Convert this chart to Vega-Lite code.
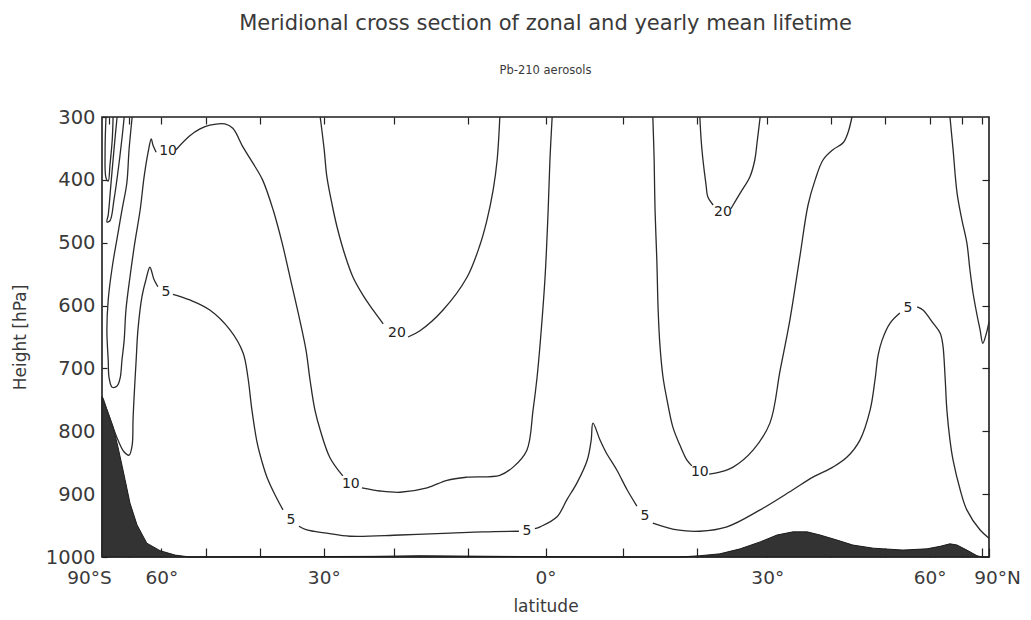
{
  "$schema": "https://vega.github.io/schema/vega-lite/v6.json",
  "width": 887,
  "height": 440,
  "autosize": "none",
  "padding": {"left": 102, "top": 117, "right": 42, "bottom": 63},
  "background": "white",
  "config": {
    "font": "DejaVu Sans",
    "view": {"stroke": "#1c1c1c", "strokeWidth": 1.6},
    "axis": {"grid": false, "domain": false, "tickColor": "#222", "tickWidth": 1.2}
  },
  "title": {
    "text": "Meridional cross section of zonal and yearly mean lifetime",
    "subtitle": "Pb-210 aerosols",
    "anchor": "middle",
    "font": "DejaVu Sans",
    "fontSize": 21,
    "fontWeight": "normal",
    "color": "#3a3a3a",
    "subtitleFont": "DejaVu Sans",
    "subtitleFontSize": 11.5,
    "subtitleFontWeight": "normal",
    "subtitleColor": "#3a3a3a",
    "subtitlePadding": 31,
    "offset": 31
  },
  "datasets": {
    "orography": [
      {"mu": -1.0, "p": 745}, {"mu": -0.986, "p": 771}, {"mu": -0.975, "p": 793},
      {"mu": -0.964, "p": 825}, {"mu": -0.955, "p": 854}, {"mu": -0.948, "p": 877},
      {"mu": -0.937, "p": 914}, {"mu": -0.921, "p": 949}, {"mu": -0.899, "p": 978},
      {"mu": -0.869, "p": 990}, {"mu": -0.835, "p": 997}, {"mu": -0.802, "p": 1000},
      {"mu": -0.389, "p": 999}, {"mu": -0.283, "p": 998}, {"mu": -0.103, "p": 999},
      {"mu": 0.123, "p": 1000}, {"mu": 0.303, "p": 1000}, {"mu": 0.348, "p": 998},
      {"mu": 0.393, "p": 995}, {"mu": 0.439, "p": 987}, {"mu": 0.484, "p": 976},
      {"mu": 0.522, "p": 965}, {"mu": 0.558, "p": 960}, {"mu": 0.59, "p": 960},
      {"mu": 0.619, "p": 965}, {"mu": 0.657, "p": 973}, {"mu": 0.693, "p": 981},
      {"mu": 0.739, "p": 986}, {"mu": 0.806, "p": 989}, {"mu": 0.86, "p": 987},
      {"mu": 0.89, "p": 983}, {"mu": 0.912, "p": 979}, {"mu": 0.928, "p": 981},
      {"mu": 0.95, "p": 989}, {"mu": 0.973, "p": 998}, {"mu": 0.984, "p": 1000},
      {"mu": 1.0, "p": 1000}
    ],
    "contours": [
      {"seg": "s1", "i": 0, "mu": -0.991, "p": 300}, {"seg": "s1", "i": 1, "mu": -0.993, "p": 352},
      {"seg": "s1", "i": 2, "mu": -0.991, "p": 397}, {"seg": "s1", "i": 3, "mu": -0.986, "p": 402},
      {"seg": "s1", "i": 4, "mu": -0.982, "p": 376}, {"seg": "s1", "i": 5, "mu": -0.977, "p": 337},
      {"seg": "s1", "i": 6, "mu": -0.975, "p": 300},

      {"seg": "s2", "i": 0, "mu": -0.966, "p": 300}, {"seg": "s2", "i": 1, "mu": -0.973, "p": 352},
      {"seg": "s2", "i": 2, "mu": -0.98, "p": 408}, {"seg": "s2", "i": 3, "mu": -0.986, "p": 456},
      {"seg": "s2", "i": 4, "mu": -0.989, "p": 467}, {"seg": "s2", "i": 5, "mu": -0.982, "p": 465},
      {"seg": "s2", "i": 6, "mu": -0.973, "p": 432}, {"seg": "s2", "i": 7, "mu": -0.962, "p": 376},
      {"seg": "s2", "i": 8, "mu": -0.953, "p": 321}, {"seg": "s2", "i": 9, "mu": -0.95, "p": 300},

      {"seg": "t10a", "i": 0, "mu": -0.932, "p": 300}, {"seg": "t10a", "i": 1, "mu": -0.939, "p": 352},
      {"seg": "t10a", "i": 2, "mu": -0.944, "p": 405}, {"seg": "t10a", "i": 3, "mu": -0.955, "p": 448},
      {"seg": "t10a", "i": 4, "mu": -0.964, "p": 485}, {"seg": "t10a", "i": 5, "mu": -0.977, "p": 539},
      {"seg": "t10a", "i": 6, "mu": -0.986, "p": 591}, {"seg": "t10a", "i": 7, "mu": -0.989, "p": 639},
      {"seg": "t10a", "i": 8, "mu": -0.986, "p": 687}, {"seg": "t10a", "i": 9, "mu": -0.984, "p": 715},
      {"seg": "t10a", "i": 10, "mu": -0.977, "p": 730}, {"seg": "t10a", "i": 11, "mu": -0.966, "p": 728},
      {"seg": "t10a", "i": 12, "mu": -0.959, "p": 715}, {"seg": "t10a", "i": 13, "mu": -0.955, "p": 687},
      {"seg": "t10a", "i": 14, "mu": -0.95, "p": 655}, {"seg": "t10a", "i": 15, "mu": -0.946, "p": 607},
      {"seg": "t10a", "i": 16, "mu": -0.937, "p": 555}, {"seg": "t10a", "i": 17, "mu": -0.926, "p": 500},
      {"seg": "t10a", "i": 18, "mu": -0.914, "p": 448}, {"seg": "t10a", "i": 19, "mu": -0.905, "p": 395},
      {"seg": "t10a", "i": 20, "mu": -0.896, "p": 356}, {"seg": "t10a", "i": 21, "mu": -0.889, "p": 335},
      {"seg": "t10a", "i": 22, "mu": -0.885, "p": 345}, {"seg": "t10a", "i": 23, "mu": -0.878, "p": 356},

      {"seg": "t10b", "i": 0, "mu": -0.833, "p": 352}, {"seg": "t10b", "i": 1, "mu": -0.802, "p": 330},
      {"seg": "t10b", "i": 2, "mu": -0.779, "p": 319}, {"seg": "t10b", "i": 3, "mu": -0.757, "p": 313},
      {"seg": "t10b", "i": 4, "mu": -0.723, "p": 311}, {"seg": "t10b", "i": 5, "mu": -0.705, "p": 318},
      {"seg": "t10b", "i": 6, "mu": -0.682, "p": 348}, {"seg": "t10b", "i": 7, "mu": -0.66, "p": 373},
      {"seg": "t10b", "i": 8, "mu": -0.638, "p": 400}, {"seg": "t10b", "i": 9, "mu": -0.614, "p": 448},
      {"seg": "t10b", "i": 10, "mu": -0.594, "p": 500}, {"seg": "t10b", "i": 11, "mu": -0.576, "p": 555},
      {"seg": "t10b", "i": 12, "mu": -0.554, "p": 623}, {"seg": "t10b", "i": 13, "mu": -0.54, "p": 671},
      {"seg": "t10b", "i": 14, "mu": -0.531, "p": 718}, {"seg": "t10b", "i": 15, "mu": -0.52, "p": 766},
      {"seg": "t10b", "i": 16, "mu": -0.508, "p": 798}, {"seg": "t10b", "i": 17, "mu": -0.486, "p": 842},
      {"seg": "t10b", "i": 18, "mu": -0.457, "p": 871},

      {"seg": "t10c", "i": 0, "mu": -0.414, "p": 890}, {"seg": "t10c", "i": 1, "mu": -0.373, "p": 895},
      {"seg": "t10c", "i": 2, "mu": -0.328, "p": 897}, {"seg": "t10c", "i": 3, "mu": -0.267, "p": 890},
      {"seg": "t10c", "i": 4, "mu": -0.222, "p": 878}, {"seg": "t10c", "i": 5, "mu": -0.177, "p": 873},
      {"seg": "t10c", "i": 6, "mu": -0.103, "p": 870}, {"seg": "t10c", "i": 7, "mu": -0.073, "p": 857},
      {"seg": "t10c", "i": 8, "mu": -0.042, "p": 830}, {"seg": "t10c", "i": 9, "mu": -0.028, "p": 766},
      {"seg": "t10c", "i": 10, "mu": -0.019, "p": 714}, {"seg": "t10c", "i": 11, "mu": -0.012, "p": 660},
      {"seg": "t10c", "i": 12, "mu": -0.001, "p": 555}, {"seg": "t10c", "i": 13, "mu": 0.006, "p": 448},
      {"seg": "t10c", "i": 14, "mu": 0.01, "p": 368}, {"seg": "t10c", "i": 15, "mu": 0.015, "p": 300},

      {"seg": "t20a", "i": 0, "mu": -0.508, "p": 300}, {"seg": "t20a", "i": 1, "mu": -0.499, "p": 352},
      {"seg": "t20a", "i": 2, "mu": -0.493, "p": 395}, {"seg": "t20a", "i": 3, "mu": -0.481, "p": 440},
      {"seg": "t20a", "i": 4, "mu": -0.47, "p": 475}, {"seg": "t20a", "i": 5, "mu": -0.452, "p": 520},
      {"seg": "t20a", "i": 6, "mu": -0.434, "p": 555}, {"seg": "t20a", "i": 7, "mu": -0.412, "p": 583},
      {"seg": "t20a", "i": 8, "mu": -0.389, "p": 607}, {"seg": "t20a", "i": 9, "mu": -0.366, "p": 629},

      {"seg": "t20b", "i": 0, "mu": -0.31, "p": 650}, {"seg": "t20b", "i": 1, "mu": -0.283, "p": 640},
      {"seg": "t20b", "i": 2, "mu": -0.231, "p": 607}, {"seg": "t20b", "i": 3, "mu": -0.177, "p": 555},
      {"seg": "t20b", "i": 4, "mu": -0.148, "p": 504}, {"seg": "t20b", "i": 5, "mu": -0.132, "p": 464},
      {"seg": "t20b", "i": 6, "mu": -0.118, "p": 416}, {"seg": "t20b", "i": 7, "mu": -0.109, "p": 368},
      {"seg": "t20b", "i": 8, "mu": -0.103, "p": 300},

      {"seg": "t5a", "i": 0, "mu": -0.998, "p": 747}, {"seg": "t5a", "i": 1, "mu": -0.989, "p": 766},
      {"seg": "t5a", "i": 2, "mu": -0.977, "p": 790}, {"seg": "t5a", "i": 3, "mu": -0.964, "p": 814},
      {"seg": "t5a", "i": 4, "mu": -0.95, "p": 833}, {"seg": "t5a", "i": 5, "mu": -0.939, "p": 838},
      {"seg": "t5a", "i": 6, "mu": -0.932, "p": 822}, {"seg": "t5a", "i": 7, "mu": -0.93, "p": 782},
      {"seg": "t5a", "i": 8, "mu": -0.928, "p": 750}, {"seg": "t5a", "i": 9, "mu": -0.923, "p": 687},
      {"seg": "t5a", "i": 10, "mu": -0.919, "p": 639}, {"seg": "t5a", "i": 11, "mu": -0.91, "p": 586},
      {"seg": "t5a", "i": 12, "mu": -0.901, "p": 559}, {"seg": "t5a", "i": 13, "mu": -0.892, "p": 539},
      {"seg": "t5a", "i": 14, "mu": -0.883, "p": 558}, {"seg": "t5a", "i": 15, "mu": -0.874, "p": 570},

      {"seg": "t5b", "i": 0, "mu": -0.84, "p": 582}, {"seg": "t5b", "i": 1, "mu": -0.802, "p": 591},
      {"seg": "t5b", "i": 2, "mu": -0.757, "p": 607}, {"seg": "t5b", "i": 3, "mu": -0.711, "p": 639},
      {"seg": "t5b", "i": 4, "mu": -0.682, "p": 675}, {"seg": "t5b", "i": 5, "mu": -0.671, "p": 714},
      {"seg": "t5b", "i": 6, "mu": -0.662, "p": 766}, {"seg": "t5b", "i": 7, "mu": -0.65, "p": 819},
      {"seg": "t5b", "i": 8, "mu": -0.639, "p": 849}, {"seg": "t5b", "i": 9, "mu": -0.628, "p": 873},
      {"seg": "t5b", "i": 10, "mu": -0.61, "p": 901}, {"seg": "t5b", "i": 11, "mu": -0.592, "p": 925},

      {"seg": "t5c", "i": 0, "mu": -0.556, "p": 951}, {"seg": "t5c", "i": 1, "mu": -0.538, "p": 957},
      {"seg": "t5c", "i": 2, "mu": -0.493, "p": 962}, {"seg": "t5c", "i": 3, "mu": -0.441, "p": 967},
      {"seg": "t5c", "i": 4, "mu": -0.328, "p": 965}, {"seg": "t5c", "i": 5, "mu": -0.215, "p": 962},
      {"seg": "t5c", "i": 6, "mu": -0.141, "p": 960}, {"seg": "t5c", "i": 7, "mu": -0.06, "p": 959},

      {"seg": "t5d", "i": 0, "mu": -0.024, "p": 955}, {"seg": "t5d", "i": 1, "mu": -0.012, "p": 952},
      {"seg": "t5d", "i": 2, "mu": 0.026, "p": 936}, {"seg": "t5d", "i": 3, "mu": 0.048, "p": 909},
      {"seg": "t5d", "i": 4, "mu": 0.071, "p": 882}, {"seg": "t5d", "i": 5, "mu": 0.094, "p": 846},
      {"seg": "t5d", "i": 6, "mu": 0.103, "p": 814}, {"seg": "t5d", "i": 7, "mu": 0.107, "p": 787},
      {"seg": "t5d", "i": 8, "mu": 0.123, "p": 814}, {"seg": "t5d", "i": 9, "mu": 0.136, "p": 833},
      {"seg": "t5d", "i": 10, "mu": 0.161, "p": 862}, {"seg": "t5d", "i": 11, "mu": 0.184, "p": 893},
      {"seg": "t5d", "i": 12, "mu": 0.206, "p": 919},

      {"seg": "t5e", "i": 0, "mu": 0.242, "p": 946}, {"seg": "t5e", "i": 1, "mu": 0.297, "p": 957},
      {"seg": "t5e", "i": 2, "mu": 0.348, "p": 959}, {"seg": "t5e", "i": 3, "mu": 0.409, "p": 952},
      {"seg": "t5e", "i": 4, "mu": 0.484, "p": 925}, {"seg": "t5e", "i": 5, "mu": 0.558, "p": 893},
      {"seg": "t5e", "i": 6, "mu": 0.603, "p": 873}, {"seg": "t5e", "i": 7, "mu": 0.648, "p": 857},
      {"seg": "t5e", "i": 8, "mu": 0.68, "p": 841}, {"seg": "t5e", "i": 9, "mu": 0.709, "p": 814},
      {"seg": "t5e", "i": 10, "mu": 0.732, "p": 766}, {"seg": "t5e", "i": 11, "mu": 0.743, "p": 718},
      {"seg": "t5e", "i": 12, "mu": 0.75, "p": 679}, {"seg": "t5e", "i": 13, "mu": 0.759, "p": 655},
      {"seg": "t5e", "i": 14, "mu": 0.777, "p": 628}, {"seg": "t5e", "i": 15, "mu": 0.799, "p": 612},

      {"seg": "t5f", "i": 0, "mu": 0.838, "p": 602}, {"seg": "t5f", "i": 1, "mu": 0.851, "p": 607},
      {"seg": "t5f", "i": 2, "mu": 0.874, "p": 628}, {"seg": "t5f", "i": 3, "mu": 0.89, "p": 644},
      {"seg": "t5f", "i": 4, "mu": 0.896, "p": 663}, {"seg": "t5f", "i": 5, "mu": 0.901, "p": 714},
      {"seg": "t5f", "i": 6, "mu": 0.905, "p": 766}, {"seg": "t5f", "i": 7, "mu": 0.912, "p": 814},
      {"seg": "t5f", "i": 8, "mu": 0.919, "p": 846}, {"seg": "t5f", "i": 9, "mu": 0.935, "p": 893},
      {"seg": "t5f", "i": 10, "mu": 0.95, "p": 925}, {"seg": "t5f", "i": 11, "mu": 0.98, "p": 957},
      {"seg": "t5f", "i": 12, "mu": 1.0, "p": 970},

      {"seg": "n10a", "i": 0, "mu": 0.242, "p": 300}, {"seg": "n10a", "i": 1, "mu": 0.245, "p": 368},
      {"seg": "n10a", "i": 2, "mu": 0.247, "p": 448}, {"seg": "n10a", "i": 3, "mu": 0.251, "p": 527},
      {"seg": "n10a", "i": 4, "mu": 0.254, "p": 607}, {"seg": "n10a", "i": 5, "mu": 0.258, "p": 663},
      {"seg": "n10a", "i": 6, "mu": 0.265, "p": 714}, {"seg": "n10a", "i": 7, "mu": 0.274, "p": 750},
      {"seg": "n10a", "i": 8, "mu": 0.287, "p": 793}, {"seg": "n10a", "i": 9, "mu": 0.303, "p": 822},
      {"seg": "n10a", "i": 10, "mu": 0.319, "p": 846}, {"seg": "n10a", "i": 11, "mu": 0.33, "p": 855},

      {"seg": "n10b", "i": 0, "mu": 0.369, "p": 868}, {"seg": "n10b", "i": 1, "mu": 0.393, "p": 865},
      {"seg": "n10b", "i": 2, "mu": 0.423, "p": 857}, {"seg": "n10b", "i": 3, "mu": 0.468, "p": 830},
      {"seg": "n10b", "i": 4, "mu": 0.506, "p": 787}, {"seg": "n10b", "i": 5, "mu": 0.529, "p": 703},
      {"seg": "n10b", "i": 6, "mu": 0.551, "p": 623}, {"seg": "n10b", "i": 7, "mu": 0.574, "p": 520},
      {"seg": "n10b", "i": 8, "mu": 0.592, "p": 440}, {"seg": "n10b", "i": 9, "mu": 0.608, "p": 400},
      {"seg": "n10b", "i": 10, "mu": 0.626, "p": 368}, {"seg": "n10b", "i": 11, "mu": 0.648, "p": 352},
      {"seg": "n10b", "i": 12, "mu": 0.671, "p": 341}, {"seg": "n10b", "i": 13, "mu": 0.682, "p": 325},
      {"seg": "n10b", "i": 14, "mu": 0.691, "p": 300},

      {"seg": "n20a", "i": 0, "mu": 0.348, "p": 300}, {"seg": "n20a", "i": 1, "mu": 0.351, "p": 337},
      {"seg": "n20a", "i": 2, "mu": 0.355, "p": 368}, {"seg": "n20a", "i": 3, "mu": 0.362, "p": 408},
      {"seg": "n20a", "i": 4, "mu": 0.366, "p": 427}, {"seg": "n20a", "i": 5, "mu": 0.378, "p": 440},

      {"seg": "n20b", "i": 0, "mu": 0.418, "p": 446}, {"seg": "n20b", "i": 1, "mu": 0.439, "p": 421},
      {"seg": "n20b", "i": 2, "mu": 0.461, "p": 395}, {"seg": "n20b", "i": 3, "mu": 0.472, "p": 368},
      {"seg": "n20b", "i": 4, "mu": 0.477, "p": 341}, {"seg": "n20b", "i": 5, "mu": 0.484, "p": 300},

      {"seg": "np", "i": 0, "mu": 0.912, "p": 300}, {"seg": "np", "i": 1, "mu": 0.919, "p": 352},
      {"seg": "np", "i": 2, "mu": 0.928, "p": 421}, {"seg": "np", "i": 3, "mu": 0.939, "p": 464},
      {"seg": "np", "i": 4, "mu": 0.95, "p": 500}, {"seg": "np", "i": 5, "mu": 0.957, "p": 543},
      {"seg": "np", "i": 6, "mu": 0.964, "p": 580}, {"seg": "np", "i": 7, "mu": 0.973, "p": 615},
      {"seg": "np", "i": 8, "mu": 0.98, "p": 639}, {"seg": "np", "i": 9, "mu": 0.986, "p": 660},
      {"seg": "np", "i": 10, "mu": 0.993, "p": 647}, {"seg": "np", "i": 11, "mu": 1.0, "p": 626}
    ],
    "labels": [
      {"mu": -0.851, "p": 354, "level": "10"},
      {"mu": -0.856, "p": 578, "level": "5"},
      {"mu": -0.574, "p": 941, "level": "5"},
      {"mu": -0.439, "p": 884, "level": "10"},
      {"mu": -0.335, "p": 644, "level": "20"},
      {"mu": -0.042, "p": 959, "level": "5"},
      {"mu": 0.224, "p": 935, "level": "5"},
      {"mu": 0.348, "p": 865, "level": "10"},
      {"mu": 0.4, "p": 451, "level": "20"},
      {"mu": 0.817, "p": 604, "level": "5"}
    ]
  },
  "layer": [
    {
      "data": {"name": "orography"},
      "mark": {"type": "area", "color": "#333333", "opacity": 1, "stroke": "#1a1a1a", "strokeWidth": 1},
      "encoding": {
        "x": {
          "field": "mu", "type": "quantitative",
          "scale": {"domain": [-1, 1], "nice": false, "zero": false},
          "axis": {
            "orient": "bottom",
            "values": [-1, -0.98481, -0.93969, -0.86603, -0.76604, -0.64279, -0.5, -0.34202, -0.17365, 0, 0.17365, 0.34202, 0.5, 0.64279, 0.76604, 0.86603, 0.93969, 0.98481, 1],
            "labelExpr": "datum.value <= -0.999 ? '90°S' : datum.value >= 0.999 ? '90°N' : (round(asin(datum.value) * 180 / PI) % 30 == 0 ? abs(round(asin(datum.value) * 180 / PI)) + '°' : '')",
            "tickSize": -9,
            "labelPadding": 20,
            "labelOffset": {"condition": [{"test": "datum.value <= -0.999", "value": -13}, {"test": "datum.value >= 0.999", "value": 8}], "value": 0},
            "labelFont": "DejaVu Sans",
            "labelFontSize": 18.5,
            "labelColor": "#3a3a3a",
            "labelFlush": false,
            "labelOverlap": false,
            "title": "latitude",
            "titleFont": "DejaVu Sans",
            "titleFontSize": 17,
            "titleFontWeight": "normal",
            "titleColor": "#3a3a3a",
            "titlePadding": 12
          }
        },
        "y": {
          "field": "p", "type": "quantitative",
          "scale": {"domain": [300, 1000], "reverse": true, "nice": false, "zero": false},
          "axis": {
            "orient": "left",
            "values": [300, 400, 500, 600, 700, 800, 900, 1000],
            "format": "d",
            "tickSize": -5,
            "labelPadding": 12,
            "labelFont": "DejaVu Sans",
            "labelFontSize": 19.5,
            "labelColor": "#3a3a3a",
            "labelFlush": false,
            "labelOverlap": false,
            "title": "Height [hPa]",
            "titleFont": "DejaVu Sans",
            "titleFontSize": 17,
            "titleFontWeight": "normal",
            "titleColor": "#3a3a3a",
            "titlePadding": 16
          }
        },
        "y2": {"datum": 1000}
      }
    },
    {
      "data": {"name": "contours"},
      "mark": {"type": "line", "color": "#2a2a2a", "strokeWidth": 1.3, "interpolate": "catmull-rom"},
      "encoding": {
        "x": {
          "field": "mu", "type": "quantitative",
          "axis": {
            "orient": "top",
            "values": [-0.98481, -0.93969, -0.86603, -0.76604, -0.64279, -0.5, -0.34202, -0.17365, 0, 0.17365, 0.34202, 0.5, 0.64279, 0.76604, 0.86603, 0.93969, 0.98481],
            "tickSize": -7,
            "labels": false,
            "title": null
          }
        },
        "y": {
          "field": "p", "type": "quantitative",
          "axis": {
            "orient": "right",
            "values": [400, 500, 600, 700, 800, 900],
            "tickSize": -7,
            "labels": false,
            "title": null
          }
        },
        "detail": {"field": "seg", "type": "nominal"},
        "order": {"field": "i", "type": "quantitative"}
      }
    },
    {
      "data": {"name": "labels"},
      "mark": {"type": "text", "font": "DejaVu Sans", "fontSize": 14, "color": "#222", "align": "center", "baseline": "middle"},
      "encoding": {
        "x": {"field": "mu", "type": "quantitative", "axis": null},
        "y": {"field": "p", "type": "quantitative", "axis": null},
        "text": {"field": "level", "type": "nominal"}
      }
    }
  ],
  "resolve": {"axis": {"x": "independent", "y": "independent"}}
}
